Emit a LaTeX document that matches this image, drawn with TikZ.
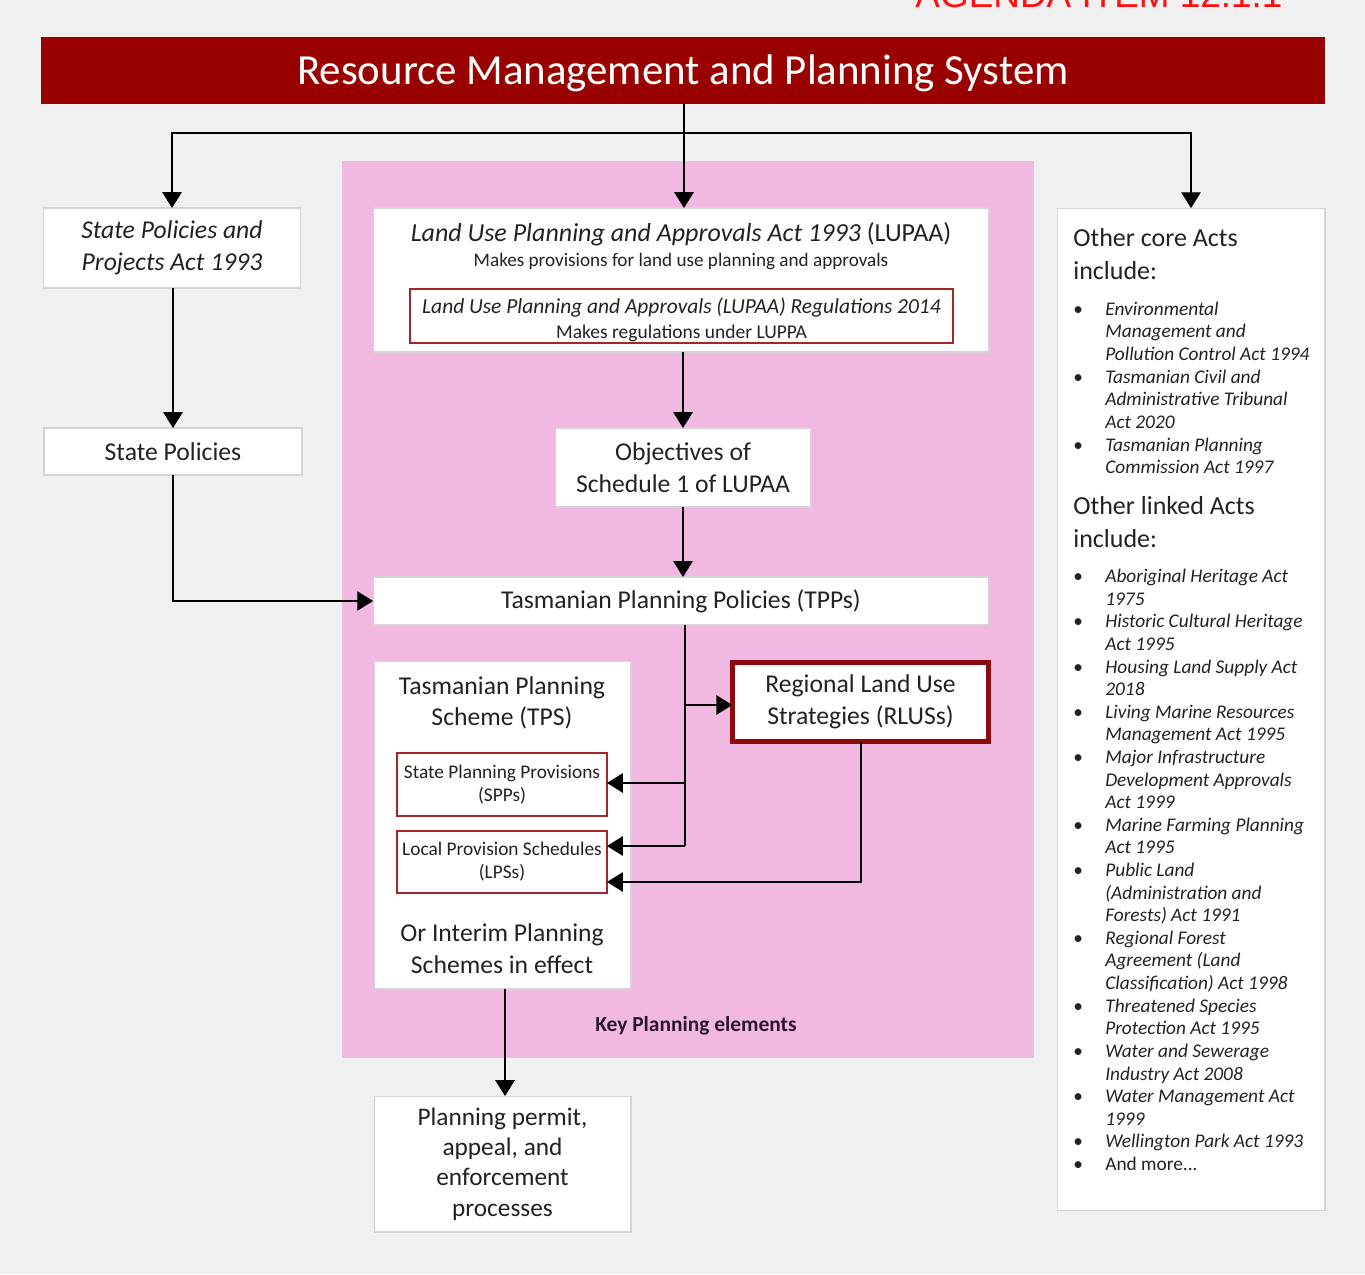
\documentclass[tikz,border=0pt]{standalone}
\usepackage{fontspec}
\setmainfont{Carlito}
\newfontfamily\arialfont{Liberation Sans}
\usetikzlibrary{arrows.meta,calc}
\definecolor{bg}{HTML}{F0F0F0}
\definecolor{titlered}{HTML}{990000}
\definecolor{boxred}{HTML}{A3262A}
\definecolor{rlusred}{HTML}{8C0A0E}
\definecolor{pinkbg}{HTML}{F1B8E1}
\definecolor{boxline}{HTML}{D4D4D4}
\definecolor{txt}{HTML}{222222}
\definecolor{keytxt}{HTML}{2A1530}
\definecolor{agenda}{HTML}{FF1010}
\begin{document}
\begin{tikzpicture}[x=0.02cm,y=-0.02cm,
  wbox/.style={draw=boxline,line width=0.6pt,fill=white,inner sep=0pt,outer sep=0pt,text=txt,align=center},
  redbox/.style={draw=boxred,line width=1.2pt,fill=white,inner sep=0pt,outer sep=0pt,text=txt,align=center},
  conn/.style={line width=0.8pt,draw=black},
  arr/.style={conn,-{Triangle[length=9pt,width=11pt]}},
  bigfont/.style={font=\fontsize{14.6}{18}\selectfont},
  smallfont/.style={font=\fontsize{11}{13}\selectfont},
  lbl/.style={inner sep=0pt,text=txt,align=center}
]
\useasboundingbox (0,0) rectangle (1365,1274);
\fill[bg] (0,0) rectangle (1365,1274);

% cut-off header text
\node[anchor=base,inner sep=0pt,text=agenda,font=\arialfont\fontsize{21}{24}\selectfont] (agenda) at (1099,8) {AGENDA ITEM 12.1.1};

% title bar
\node[fill=titlered,minimum width=25.68cm,minimum height=1.34cm,inner sep=0pt,outer sep=0pt] (title) at (683,70.5) {};
\node[lbl,text=white,font=\fontsize{24.4}{28}\selectfont] (titlet) at (683,73.5) {Resource Management and Planning System};

% pink region
\node[fill=pinkbg,minimum width=13.84cm,minimum height=17.94cm,inner sep=0pt] (pink) at (688,609.5) {};
\node[lbl,text=keytxt,font=\bfseries\fontsize{12.2}{14}\selectfont] (key) at (696,1026) {Key Planning elements};

% left column
\node[wbox,bigfont,minimum width=5.14cm,minimum height=1.6cm] (spa) at (172,248) {\itshape State Policies and\\\itshape Projects Act 1993};
\node[wbox,bigfont,minimum width=5.16cm,minimum height=0.94cm] (sp) at (173,451.5) {State Policies};

% LUPAA block
\node[wbox,minimum width=12.32cm,minimum height=2.88cm] (lupaa) at (681,280) {};
\node[lbl,font=\fontsize{14.8}{18}\selectfont] (lupaat) at (681,234) {\textit{Land Use Planning and Approvals Act 1993} (LUPAA)};
\node[lbl,font=\fontsize{10.9}{13}\selectfont] (lupaas) at (681,261) {Makes provisions for land use planning and approvals};
\node[redbox,minimum width=10.86cm,minimum height=1.08cm] (reg) at (681.5,316) {};
\node[lbl,font=\fontsize{12.2}{14}\selectfont] (regt) at (681.5,320) {\textit{Land Use Planning and Approvals (LUPAA) Regulations 2014}\\{\fontsize{11.1}{13}\selectfont Makes regulations under LUPPA}};

\node[wbox,bigfont,minimum width=5.12cm,minimum height=1.58cm] (obj) at (683,467.5) {Objectives of\\Schedule 1 of LUPAA};
\node[wbox,bigfont,minimum width=12.32cm,minimum height=0.96cm] (tpp) at (681,601) {Tasmanian Planning Policies (TPPs)};

% TPS block
\node[wbox,minimum width=5.14cm,minimum height=6.56cm] (tps) at (502.5,825) {};
\node[lbl,bigfont] (tpst) at (502,703) {Tasmanian Planning\\Scheme (TPS)};
\node[redbox,smallfont,minimum width=4.2cm,minimum height=1.26cm] (spp) at (502,784.5) {State Planning Provisions\\(SPPs)};
\node[redbox,smallfont,minimum width=4.2cm,minimum height=1.24cm] (lps) at (502,862) {Local Provision Schedules\\(LPSs)};
\node[lbl,bigfont] (tpsb) at (502,948.5) {Or Interim Planning\\Schemes in effect};

\node[draw=rlusred,line width=2.8pt,fill=white,inner sep=0pt,outer sep=0pt,text=txt,align=center,bigfont,minimum width=5.13cm,minimum height=1.59cm] (rlus) at (860.5,702) {Regional Land Use\\Strategies (RLUSs)};

\node[wbox,minimum width=5.14cm,minimum height=2.72cm,font=\fontsize{14.4}{17.2}\selectfont] (ppa) at (502.5,1164) {Planning permit,\\appeal, and\\enforcement\\processes};

% right column
\node[wbox,minimum width=5.36cm,minimum height=20.06cm] (other) at (1191,709.5) {};
\node[lbl,anchor=west,align=left,font=\fontsize{14.8}{18.7}\selectfont] (coreh) at (1073,254) {Other core Acts\\include:};
\node[lbl,anchor=west,align=left,font=\fontsize{11}{12.87}\selectfont] (corel) at (1073,390) {%
\begin{tabular}{@{}p{0.64cm}@{}l@{}}
\textbullet & \textit{Environmental}\\
 & \textit{Management and}\\
 & \textit{Pollution Control Act 1994}\\
\textbullet & \textit{Tasmanian Civil and}\\
 & \textit{Administrative Tribunal}\\
 & \textit{Act 2020}\\
\textbullet & \textit{Tasmanian Planning}\\
 & \textit{Commission Act 1997}
\end{tabular}};
\node[lbl,anchor=west,align=left,font=\fontsize{14.8}{18.7}\selectfont] (linkh) at (1073,522) {Other linked Acts\\include:};
\node[lbl,anchor=west,align=left,font=\fontsize{11}{12.87}\selectfont] (linkl) at (1073,872) {%
\begin{tabular}{@{}p{0.64cm}@{}l@{}}
\textbullet & \textit{Aboriginal Heritage Act}\\
 & \textit{1975}\\
\textbullet & \textit{Historic Cultural Heritage}\\
 & \textit{Act 1995}\\
\textbullet & \textit{Housing Land Supply Act}\\
 & \textit{2018}\\
\textbullet & \textit{Living Marine Resources}\\
 & \textit{Management Act 1995}\\
\textbullet & \textit{Major Infrastructure}\\
 & \textit{Development Approvals}\\
 & \textit{Act 1999}\\
\textbullet & \textit{Marine Farming Planning}\\
 & \textit{Act 1995}\\
\textbullet & \textit{Public Land}\\
 & \textit{(Administration and}\\
 & \textit{Forests) Act 1991}\\
\textbullet & \textit{Regional Forest}\\
 & \textit{Agreement (Land}\\
 & \textit{Classification) Act 1998}\\
\textbullet & \textit{Threatened Species}\\
 & \textit{Protection Act 1995}\\
\textbullet & \textit{Water and Sewerage}\\
 & \textit{Industry Act 2008}\\
\textbullet & \textit{Water Management Act}\\
 & \textit{1999}\\
\textbullet & \textit{Wellington Park Act 1993}\\
\textbullet & And more...
\end{tabular}};

% connectors
\coordinate (j) at (684,133);
\draw[conn] (title.south -| j) -- (j);
\draw[arr] (j) -| (spa.north);
\draw[arr] (j) -- (lupaa.north -| j);
\draw[arr] (j) -| (other.north);
\draw[arr] (spa.south -| sp.north) -- (sp.north);
\draw[arr] (sp.south) |- (tpp.west);
\draw[arr] (lupaa.south -| obj.north) -- (obj.north);
\draw[arr] (obj.south) -- (tpp.north -| obj.south);
\coordinate (tb) at (685,625);
\coordinate (b1) at (685,705);
\coordinate (b2) at (685,783);
\coordinate (b3) at (685,846);
\draw[conn] (tb) -- (b3);
\draw[arr] (b1) -- (b1 -| rlus.west);
\draw[arr] (b2) -- (b2 -| spp.east);
\draw[arr] (b3) -- (b3 -| lps.east);
\coordinate (r1) at (861,882);
\draw[arr] (rlus.south -| r1) -- (r1) -- (r1 -| lps.east);
\coordinate (d1) at (505,989);
\draw[arr] (d1) -- (d1 |- ppa.north);
\end{tikzpicture}
\end{document}
